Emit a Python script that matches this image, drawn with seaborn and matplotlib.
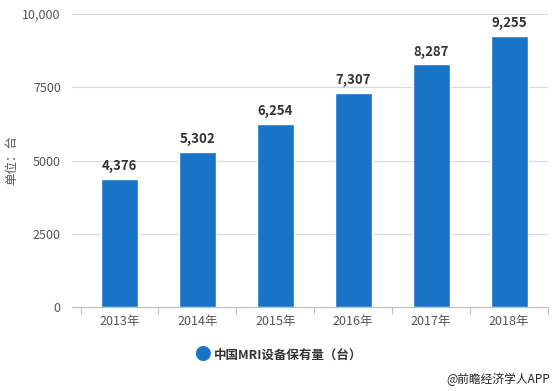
import matplotlib
matplotlib.use("Agg")
import matplotlib.pyplot as plt
import seaborn as sns
import pandas as pd
import numpy as np

# data
years = ["2013年", "2014年", "2015年", "2016年", "2017年", "2018年"]
mri_units = [4376, 5302, 6254, 7307, 8287, 9255]
y_ticks = [0, 2500, 5000, 7500, 10000]
y_tick_labels = ["0", "2500", "5000", "7500", "10,000"]
series_name = "中国MRI设备保有量（台）"

df = pd.DataFrame({"year": years, "units": mri_units})

sns.set_theme(style="white")
plt.rcParams['font.family'] = ['Noto Sans CJK SC', 'DejaVu Sans']

bar_color = "#1874c6"

fig = plt.figure(figsize=(5.58, 3.91), dpi=100)
ax = fig.add_axes([0.129, 0.215, 0.853, 0.749])

sns.barplot(data=df, x="year", y="units", color=bar_color, width=0.475,
            saturation=1, ax=ax, zorder=3)

ax.set_ylim(0, 10000)
ax.set_xlim(-0.61, len(years) - 0.5)
ax.set_yticks(y_ticks)
ax.set_yticklabels(y_tick_labels)
ax.yaxis.grid(True, color="#d9d9d9", linewidth=0.8, zorder=0)
ax.xaxis.grid(False)
for s in ["top", "right", "left"]:
    ax.spines[s].set_visible(False)
ax.spines["bottom"].set_color("#c0c0c0")
ax.spines["bottom"].set_linewidth(0.8)
ax.tick_params(axis="y", length=0, labelsize=9, labelcolor="#555555", pad=8)
ax.tick_params(axis="x", length=0, labelsize=9, labelcolor="#555555", pad=6)
ax.set_xticks(np.arange(-0.5, len(years)), minor=True)
ax.tick_params(axis="x", which="minor", bottom=True, length=5, color="#c0c0c0", width=0.8)
ax.set_xlabel("")
ax.set_ylabel("")
fig.text(0.022, 0.59, "单位：台", fontsize=9, color="#555555", rotation=90,
         ha="center", va="center")

for p, v in zip(ax.patches, mri_units):
    ax.annotate(f"{v:,}", (p.get_x() + p.get_width() / 2, v),
                xytext=(0, 4), textcoords="offset points",
                ha="center", va="bottom", fontsize=9.5, fontweight="bold",
                color="#333333")

# legend and footer
fig.text(0.362, 0.092, "●", fontsize=12, color=bar_color, ha="center", va="center")
fig.text(0.383, 0.092, series_name, fontsize=9, fontweight="bold",
         color="#333333", ha="left", va="center")
fig.text(0.985, 0.03, "@前瞻经济学人APP", fontsize=8.5, color="#222222",
         ha="right", va="center")

fig.savefig("out.png", dpi=100)
